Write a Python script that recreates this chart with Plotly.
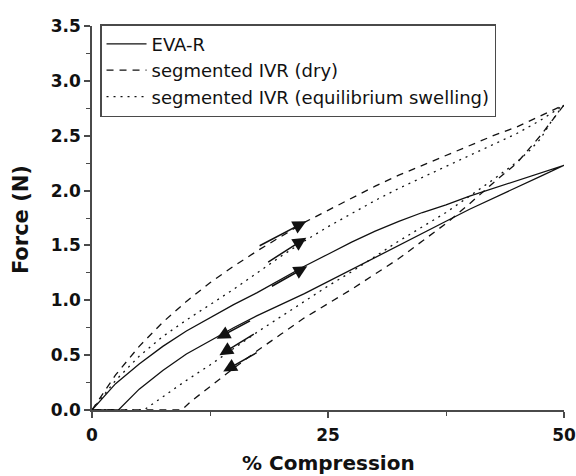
import plotly.graph_objects as go

# ---- data ----
x_load = [0, 2.5, 5, 7.5, 10, 12.5, 15, 17.5, 20, 22.5, 25, 27.5, 30, 32.5, 35, 37.5, 40, 42.5, 45, 47.5, 50]

eva_load = [0, 0.24, 0.42, 0.58, 0.72, 0.84, 0.96, 1.07, 1.19, 1.31, 1.42, 1.53, 1.63, 1.72, 1.80, 1.87, 1.95, 2.02, 2.09, 2.16, 2.23]
eva_unload_x = [50, 47.5, 45, 42.5, 40, 37.5, 35, 32.5, 30, 27.5, 25, 22.5, 20, 17.5, 15, 12.5, 10, 7.5, 5, 2.8, 0]
eva_unload = [2.23, 2.13, 2.03, 1.93, 1.83, 1.72, 1.61, 1.50, 1.39, 1.28, 1.17, 1.06, 0.96, 0.86, 0.75, 0.63, 0.51, 0.36, 0.19, 0, 0]

dry_load = [0, 0.32, 0.58, 0.80, 0.99, 1.16, 1.31, 1.45, 1.58, 1.71, 1.82, 1.93, 2.04, 2.14, 2.23, 2.32, 2.41, 2.50, 2.58, 2.68, 2.78]
dry_unload_x = [50, 48.75, 47.5, 45, 42.5, 40, 37.5, 35, 32.5, 30, 27.5, 25, 22.5, 20, 17.5, 15, 12.5, 10.5, 9.5, 0]
dry_unload = [2.78, 2.64, 2.50, 2.25, 2.07, 1.88, 1.70, 1.54, 1.38, 1.24, 1.10, 0.97, 0.84, 0.69, 0.54, 0.38, 0.21, 0.08, 0, 0]

swell_load = [0, 0.27, 0.49, 0.67, 0.82, 0.96, 1.10, 1.25, 1.40, 1.54, 1.67, 1.79, 1.91, 2.02, 2.12, 2.22, 2.32, 2.42, 2.52, 2.64, 2.78]
swell_unload_x = [50, 49.6, 48.5, 47.5, 46.4, 45, 43.9, 42.5, 40, 37.5, 35, 32.5, 30, 27.5, 25, 22.5, 20, 17.5, 15, 12.5, 10, 7.5, 5.5, 0]
swell_unload = [2.78, 2.74, 2.61, 2.47, 2.37, 2.26, 2.19, 2.10, 1.95, 1.80, 1.67, 1.54, 1.40, 1.26, 1.13, 0.99, 0.85, 0.71, 0.56, 0.41, 0.27, 0.12, 0, 0]

series_names = ["EVA-R", "segmented IVR (dry)", "segmented IVR (equilibrium swelling)"]

# arrows: (tail_x, tail_y, head_x, head_y)
arrow_tail_x = [18.9, 17.6, 18.5, 16.9, 17.3, 17.6]
arrow_tail_y = [1.12, 1.49, 1.34, 0.82, 0.70, 0.53]
arrow_head_x = [22.8, 22.7, 22.7, 13.2, 13.5, 13.9]
arrow_head_y = [1.31, 1.72, 1.57, 0.65, 0.50, 0.35]

x_ticks = [0, 25, 50]
y_ticks = [0, 0.5, 1.0, 1.5, 2.0, 2.5, 3.0, 3.5]

FONT = "DejaVu Sans"
INK = "#111111"
AXC = "#4a4a4a"

fig = go.Figure()
styles = ["solid", "7px,6px", "2px,5px"]
loads = [eva_load, dry_load, swell_load]
unl_x = [eva_unload_x, dry_unload_x, swell_unload_x]
unl_y = [eva_unload, dry_unload, swell_unload]
for name, dash, ly, ux, uy in zip(series_names, styles, loads, unl_x, unl_y):
    fig.add_trace(go.Scatter(
        x=x_load + ux, y=ly + uy, mode="lines", name=name,
        line=dict(color=INK, width=1.3, dash=dash),
        cliponaxis=False,
    ))

for tx, ty, hx, hy in zip(arrow_tail_x, arrow_tail_y, arrow_head_x, arrow_head_y):
    fig.add_annotation(
        x=hx, y=hy, ax=tx, ay=ty, xref="x", yref="y", axref="x", ayref="y",
        text="", showarrow=True, arrowhead=2, arrowsize=1.8, arrowwidth=1.5,
        arrowcolor=INK, standoff=0,
    )

# axis titles
fig.add_annotation(text="<b>% Compression</b>", xref="paper", yref="paper",
                   x=0.5, y=-0.137, showarrow=False, xanchor="center", yanchor="middle",
                   font=dict(family=FONT, size=20, color=INK))
fig.add_annotation(text="<b>Force (N)</b>", xref="paper", yref="paper",
                   x=-0.150, y=0.495, showarrow=False, xanchor="center", yanchor="middle",
                   textangle=-90, font=dict(family=FONT, size=21, color=INK))

fig.update_layout(
    width=576, height=476,
    margin=dict(l=92, r=12, t=26, b=66, autoexpand=False),
    paper_bgcolor="white", plot_bgcolor="white",
    font=dict(family=FONT, color=INK),
    showlegend=True,
    legend=dict(
        x=0.017, y=1.005, xanchor="left", yanchor="top",
        bgcolor="white", bordercolor=AXC, borderwidth=1.5,
        font=dict(family=FONT, size=18, color=INK),
        itemwidth=40, tracegroupgap=0,
    ),
    xaxis=dict(
        range=[0, 50], tickvals=x_ticks, ticktext=[str(v) for v in x_ticks],
        automargin=False,
        showgrid=False, zeroline=False, showline=True, linecolor=AXC, linewidth=1.5,
        ticks="outside", ticklen=6, tickwidth=1.5, tickcolor=AXC,
        tickfont=dict(family=FONT, size=17, color=INK, weight="bold"),
        ticklabelstandoff=3,
        minor=dict(tickvals=[12.5, 37.5], ticks="outside", ticklen=4, tickwidth=1.2, tickcolor=AXC),
    ),
    yaxis=dict(
        range=[0, 3.5], tickvals=y_ticks, ticktext=[f"{v:.1f}" for v in y_ticks],
        automargin=False,
        showgrid=False, zeroline=False, showline=True, linecolor=AXC, linewidth=1.5,
        ticks="outside", ticklen=6, tickwidth=1.5, tickcolor=AXC,
        tickfont=dict(family=FONT, size=17, color=INK, weight="bold"),
        minor=dict(tickvals=[0.25, 0.75, 1.25, 1.75, 2.25, 2.75, 3.25], ticks="outside",
                   ticklen=4, tickwidth=1.2, tickcolor=AXC),
    ),
)

fig.write_html("out.html")
